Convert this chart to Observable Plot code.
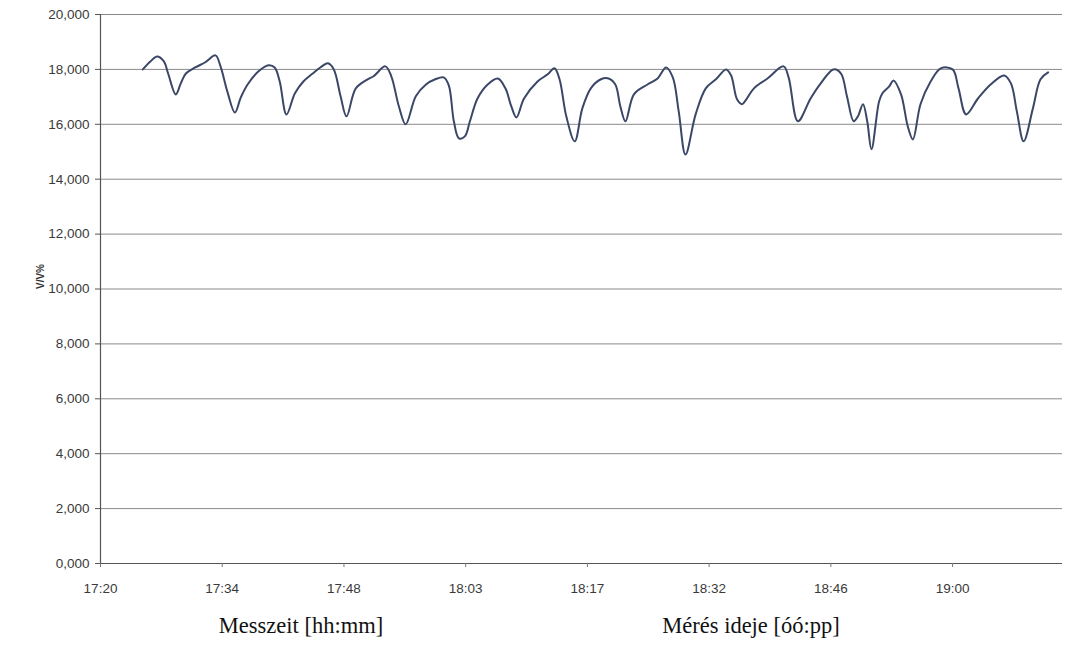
<!DOCTYPE html>
<html>
<head>
<meta charset="utf-8">
<script src="https://cdn.jsdelivr.net/npm/d3@7"></script>
<script src="https://cdn.jsdelivr.net/npm/@observablehq/plot@0.6"></script>
<style>
  html, body { margin: 0; padding: 0; background: #fff; }
  #wrap { position: relative; width: 1066px; height: 648px; overflow: hidden; }
  .cap { position: absolute; top: 613px; font-family: "Liberation Serif", "Times New Roman", serif; font-size: 22.5px; color: #111; white-space: nowrap; transform: translateX(-50%); }
</style>
</head>
<body>
<div id="wrap">
  <div id="chart"></div>
  <div class="cap" id="cap1" style="left:301px"></div>
  <div class="cap" id="cap2" style="left:751px"></div>
</div>
<script>
// minutes after 17:20
const minutes = [5.0,5.9,6.7,7.5,8.0,8.9,9.5,10.1,11.2,12.4,13.6,14.2,15.0,15.9,16.6,17.4,18.7,19.9,20.6,21.2,
  22.0,23.0,24.0,25.1,26.0,26.9,27.6,28.4,29.1,30.2,31.6,32.3,33.7,34.4,35.3,36.1,37.3,38.5,39.6,40.6,
  41.2,41.8,42.4,43.1,43.7,44.6,45.8,47.0,47.9,48.6,49.2,50.1,51.7,52.9,53.7,54.3,55.1,56.1,57.0,58.0,
  59.2,60.1,60.9,61.5,62.1,63.1,64.7,65.9,66.9,67.7,68.4,69.2,70.4,71.6,72.8,74.0,74.6,75.3,75.9,76.4,
  77.3,78.9,80.8,81.4,82.5,84.0,85.2,86.7,87.6,88.3,89.1,89.6,90.2,90.7,91.2,92.1,92.5,93.3,93.8,94.7,
  95.5,96.1,97.0,98.2,99.4,100.8,101.5,102.4,103.8,105.3,106.9,107.7,108.4,109.2,110.3,111.2,112.1];
const values = [18000,18290,18470,18290,17850,17090,17490,17850,18070,18260,18510,18110,17200,16430,16980,17450,17930,18150,18070,17560,
  16360,17130,17560,17850,18070,18220,18000,17020,16290,17310,17640,17750,18110,17750,16650,16000,17020,17450,17640,17710,
  17420,16110,15490,15560,16110,16940,17450,17670,17310,16650,16250,16940,17560,17820,18040,17640,16290,15380,16580,17310,
  17640,17670,17450,16650,16110,17090,17450,17670,18070,17710,16470,14900,16360,17310,17640,18000,17780,16910,16730,16910,
  17310,17670,18110,17710,16110,16940,17490,18000,17850,17020,16110,16290,16730,16110,15090,16830,17130,17380,17600,17090,
  15920,15450,16730,17560,18040,18000,17310,16360,16940,17450,17780,17490,16470,15380,16580,17640,17890];

const xTickMinutes = [0, 14.4, 28.8, 43.2, 57.6, 72.0, 86.4, 100.8];
const xTickLabels = ["17:20","17:34","17:48","18:03","18:17","18:32","18:46","19:00"];
const yTicks = [0,2000,4000,6000,8000,10000,12000,14000,16000,18000,20000];
const yLabel = "V/V%";
const captions = ["Messzeit [hh:mm]", "Mérés ideje [óó:pp]"];

const data = minutes.map((t, i) => ({t, v: values[i]}));
const fmtY = d => (d / 1000).toFixed(3).replace(".", ",");

const chart = Plot.plot({
  width: 1066,
  height: 606,
  marginLeft: 100,
  marginRight: 4,
  marginTop: 14,
  marginBottom: 43,
  style: {fontFamily: "'Liberation Sans', Arial, sans-serif", fontSize: "13.5px", color: "#3a3a3a", background: "#fff"},
  x: {domain: [0, 113.8]},
  y: {domain: [0, 20000]},
  marks: [
    Plot.ruleY(yTicks.filter(d => d > 0), {stroke: "#8a8a8a", strokeWidth: 1}),
    Plot.ruleX([0], {stroke: "#555", strokeWidth: 1.2}),
    Plot.ruleY([0], {stroke: "#555", strokeWidth: 1.2}),
    Plot.line(data, {x: "t", y: "v", curve: "catmull-rom", stroke: "#3b4767", strokeWidth: 2}),
    Plot.axisY({ticks: yTicks, tickSize: 5, tickPadding: 6, tickFormat: fmtY, label: null, stroke: "#555"}),
    Plot.axisX({ticks: xTickMinutes, tickSize: 4, tickPadding: 16, tickFormat: (d, i) => xTickLabels[i], label: null, stroke: "#777"}),
    Plot.text([yLabel], {frameAnchor: "left", dx: -60, rotate: -90, fontSize: 10, fontWeight: "bold", fill: "#333"})
  ]
});
document.getElementById("chart").appendChild(chart);
document.getElementById("cap1").textContent = captions[0];
document.getElementById("cap2").textContent = captions[1];
</script>
</body>
</html>
